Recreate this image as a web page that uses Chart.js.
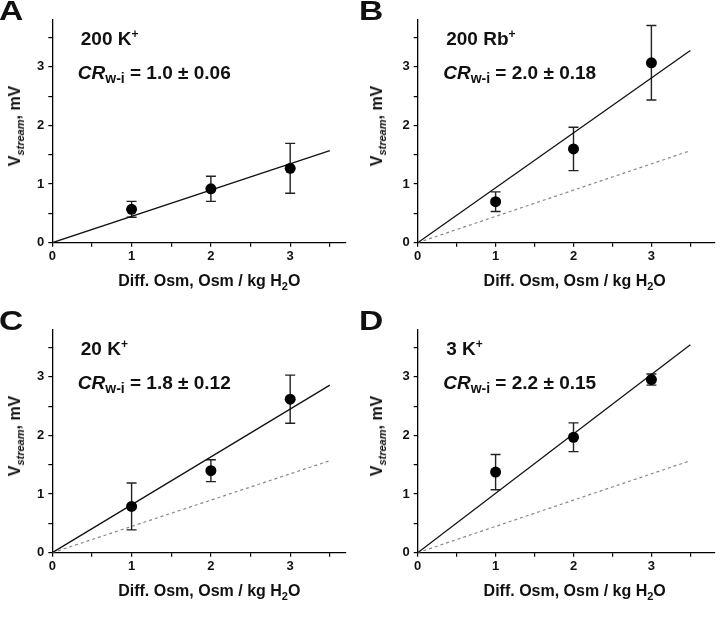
<!DOCTYPE html>
<html>
<head>
<meta charset="utf-8">
<script src="https://cdn.jsdelivr.net/npm/chart.js@4.4.1/dist/chart.umd.min.js"></script>
<style>
  body { margin: 0; background: #fff; width: 720px; height: 628px; position: relative; overflow: hidden;
         font-family: "Liberation Sans", Arial, sans-serif; color: #111; }
  .panel { position: absolute; width: 360px; }
  .panel canvas { position: absolute; left: 0; top: 0; }
  .txt { position: absolute; font-weight: bold; line-height: 1; white-space: nowrap; }
  .letter { font-size: 28px; transform: scaleX(1.2); transform-origin: left top; }
  .cond { font-size: 19px; }
  .cond sup { font-size: 12px; line-height: 0; vertical-align: 7px; }
  .cr { font-size: 19px; }
  .cr i { font-style: italic; }
  .cr sub { font-size: 14px; line-height: 0; vertical-align: -4px; }
  .ytitle { font-size: 16px; transform: translate(-50%, -50%) rotate(-90deg); }
  .ytitle sub { font-size: 11px; font-style: italic; line-height: 0; vertical-align: -4px; }
  .xtitle { font-size: 16px; transform: translateX(-50%); }
  .xtitle sub { font-size: 11px; line-height: 0; vertical-align: -4px; }
</style>
</head>
<body>
<div class="panel" id="pA" style="left:0;top:0;height:305px"><canvas id="cA" width="360" height="305"></canvas></div>
<div class="panel" id="pB" style="left:360px;top:0;height:305px"><canvas id="cB" width="360" height="305"></canvas></div>
<div class="panel" id="pC" style="left:0;top:310px;height:318px"><canvas id="cC" width="360" height="318"></canvas></div>
<div class="panel" id="pD" style="left:360px;top:310px;height:318px"><canvas id="cD" width="360" height="318"></canvas></div>
<script>
// Osmotic gradient (Osm / kg H2O)
const osm = [1, 2, 3];

// Mean streaming potential (mV) and error
const vA = [0.57, 0.92, 1.27];
const sdA = [0.135, 0.215, 0.425];
const vB = [0.70, 1.60, 3.07];
const sdB = [0.167, 0.37, 0.635];
const vC = [0.79, 1.40, 2.62];
const sdC = [0.40, 0.187, 0.41];
const vD = [1.375, 1.97, 2.955];
const sdD = [0.30, 0.245, 0.095];

// fitted lines, drawn from x = 0 to 3.5
const lineX = [0, 3.5];
const fitA = [0, 1.57];
const fitB = [0, 3.28];
const fitC = [0, 2.86];
const fitD = [0, 3.55];
const ref200K = [0, 1.57]; // dashed: the 200 K+ fit, for comparison

const conditions = ["200 K", "200 Rb", "20 K", "3 K"];
const crText = ["1.0 ± 0.06", "2.0 ± 0.18", "1.8 ± 0.12", "2.2 ± 0.15"];
const yTicks = [0, 1, 2, 3];
const xTicks = [0, 1, 2, 3];

const tickFont = { family: "Liberation Sans", size: 13, weight: "bold" };

// draws vertical error bars with caps, from the dataset's "errors" array
const errorBars = {
  id: "errorBars",
  beforeDatasetsDraw(chart) {
    const ctx = chart.ctx;
    const xs = chart.scales.x, ys = chart.scales.y;
    chart.data.datasets.forEach((ds) => {
      if (!ds.errors) return;
      ctx.save();
      ctx.strokeStyle = "#222";
      ctx.lineWidth = 1.4;
      ds.data.forEach((p, i) => {
        const e = ds.errors[i];
        const px = xs.getPixelForValue(p.x);
        const top = ys.getPixelForValue(p.y + e);
        const bot = ys.getPixelForValue(p.y - e);
        ctx.beginPath();
        ctx.moveTo(px, top); ctx.lineTo(px, bot);
        ctx.moveTo(px - 5, top); ctx.lineTo(px + 5, top);
        ctx.moveTo(px - 5, bot); ctx.lineTo(px + 5, bot);
        ctx.stroke();
      });
      ctx.restore();
    });
  }
};

function toPoints(xs, ys) {
  return xs.map((x, i) => ({ x: x, y: ys[i] }));
}

function makePanel(canvasId, vals, errs, fit, showRef, opts) {
  const datasets = [
    {
      type: "scatter",
      data: toPoints(osm, vals),
      errors: errs,
      pointRadius: 5.5,
      pointBackgroundColor: "#000",
      pointBorderWidth: 0,
    },
    {
      type: "line",
      data: toPoints(lineX, fit),
      borderColor: "#111",
      borderWidth: 1.3,
      pointRadius: 0,
      fill: false,
    },
  ];
  if (showRef) {
    datasets.push({
      type: "line",
      data: toPoints(lineX, ref200K),
      borderColor: "#888",
      borderWidth: 1.2,
      borderDash: [3, 3],
      pointRadius: 0,
      fill: false,
    });
  }

  const canvas = document.getElementById(canvasId);
  return new Chart(canvas, {
    type: "scatter",
    data: { datasets: datasets },
    plugins: [errorBars],
    options: {
      responsive: false,
      animation: false,
      layout: {
        padding: {
          left: opts.axisLeft - 45,
          top: 20,
          right: opts.padRight,
          bottom: canvas.height - 242.7 - 30,
        },
      },
      plugins: { legend: { display: false }, tooltip: { enabled: false } },
      scales: {
        x: {
          type: "linear",
          min: 0,
          max: opts.xMax,
          afterFit: (s) => { s.height = 30; },
          border: { display: true, color: "#000", width: 1.3 },
          grid: { drawOnChartArea: false, drawTicks: true, tickLength: 4, color: "#000", lineWidth: 1.2 },
          ticks: {
            stepSize: 0.5,
            includeBounds: false,
            autoSkip: false,
            maxRotation: 0,
            padding: 2,
            color: "#111",
            font: tickFont,
            callback: (v) => (xTicks.includes(v) ? String(v) : ""),
          },
        },
        y: {
          type: "linear",
          min: 0,
          max: 3.8,
          afterFit: (s) => { s.width = 45; },
          border: { display: true, color: "#000", width: 1.3 },
          grid: { drawOnChartArea: false, drawTicks: true, tickLength: 4, color: "#000", lineWidth: 1.2 },
          ticks: {
            stepSize: 0.5,
            includeBounds: false,
            autoSkip: false,
            padding: 4,
            color: "#111",
            font: tickFont,
            callback: (v) => (yTicks.includes(v) ? String(v) : ""),
          },
        },
      },
    },
  });
}

// labels and titles as real text over each panel
function addText(panelId, letter, idx, axisLeft, yTitleX) {
  const p = document.getElementById(panelId);
  const add = (cls, html, style) => {
    const d = document.createElement("div");
    d.className = "txt " + cls;
    d.innerHTML = html;
    Object.assign(d.style, style);
    p.appendChild(d);
  };
  add("letter", letter, { left: "-1px", top: "-3px" });
  add("cond", conditions[idx] + "<sup>+</sup>", { left: axisLeft + 28.5 + "px", top: "29px" });
  add("cr", "<i>CR</i><sub>w-i</sub> = " + crText[idx], { left: axisLeft + 25.5 + "px", top: "63px" });
  add("ytitle", "V<sub>stream</sub>, mV", { left: yTitleX + "px", top: "126px" });
  add("xtitle", "Diff. Osm, Osm / kg H<sub>2</sub>O", { left: axisLeft + 157 + "px", top: "273px" });
}

makePanel("cA", vA, sdA, fitA, false, { axisLeft: 52.3, padRight: 14.3, xMax: 3.7 });
makePanel("cB", vB, sdB, fitB, true, { axisLeft: 57.7, padRight: 0, xMax: 3.81 });
makePanel("cC", vC, sdC, fitC, true, { axisLeft: 52.3, padRight: 14.3, xMax: 3.7 });
makePanel("cD", vD, sdD, fitD, true, { axisLeft: 57.7, padRight: 0, xMax: 3.81 });

addText("pA", "A", 0, 52.3, 15);
addText("pB", "B", 1, 57.7, 16.5);
addText("pC", "C", 2, 52.3, 15);
addText("pD", "D", 3, 57.7, 16.5);
</script>
</body>
</html>
